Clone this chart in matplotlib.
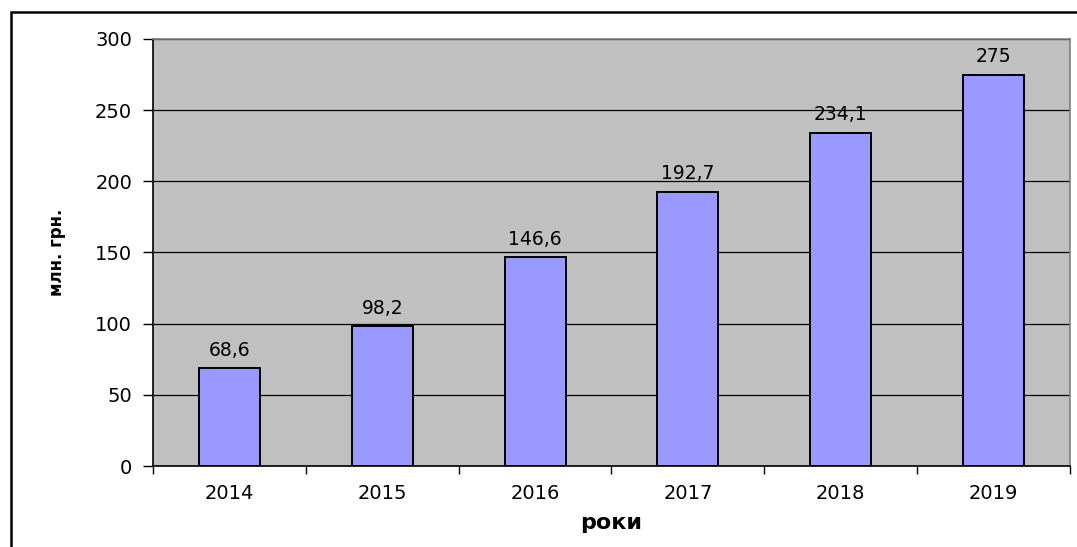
import matplotlib.pyplot as plt
from matplotlib.patches import Rectangle

years = ["2014", "2015", "2016", "2017", "2018", "2019"]
values = [68.6, 98.2, 146.6, 192.7, 234.1, 275]
value_labels = ["68,6", "98,2", "146,6", "192,7", "234,1", "275"]
y_ticks = [0, 50, 100, 150, 200, 250, 300]

plt.rcParams["font.family"] = ["DejaVu Sans"]

fig = plt.figure(figsize=(10.77, 5.47), dpi=100)
W, H = 1077, 547

# outer frame of the embedded chart (runs past the right and bottom edge)
frame = Rectangle((11 / W, -0.1), 1.2, 1 - 12 / H + 0.1, transform=fig.transFigure,
                  fill=False, edgecolor="black", linewidth=1.8)
fig.add_artist(frame)

ax = fig.add_axes([153 / W, 1 - 466 / H, (1070 - 153) / W, (466 - 39) / H])
ax.set_facecolor("#C0C0C0")

x = list(range(len(years)))
ax.bar(x, values, width=0.4, color="#9999FF", edgecolor="black", linewidth=1.4, zorder=3)
for xi, v, lab in zip(x, values, value_labels):
    ax.text(xi, v + 6, lab, ha="center", va="bottom", fontsize=13.5, zorder=4)

ax.set_xlim(-0.5, len(years) - 0.5)
ax.set_ylim(0, 300)
ax.set_yticks(y_ticks)
ax.set_yticklabels([str(t) for t in y_ticks], fontsize=14)
ax.yaxis.grid(True, color="black", linewidth=0.9, zorder=1)
ax.set_axisbelow(True)

ax.set_xticks(x)
ax.set_xticklabels(years, fontsize=14)
ax.set_xticks([i + 0.5 for i in range(-1, len(years))], minor=True)
ax.tick_params(axis="x", which="major", length=0, pad=13)
ax.tick_params(axis="x", which="minor", length=6, width=1, direction="out")
ax.tick_params(axis="y", length=7, width=1, direction="out", pad=8)

for side in ["top", "right"]:
    ax.spines[side].set_color("#808080")
    ax.spines[side].set_linewidth(1.2)
for side in ["left", "bottom"]:
    ax.spines[side].set_color("black")
    ax.spines[side].set_linewidth(1.2)

ax.set_ylabel("млн. грн.", fontsize=12, fontweight="bold", labelpad=21)
ax.set_xlabel("роки", fontsize=16, fontweight="bold", labelpad=7)

fig.savefig("out.png", dpi=100)
